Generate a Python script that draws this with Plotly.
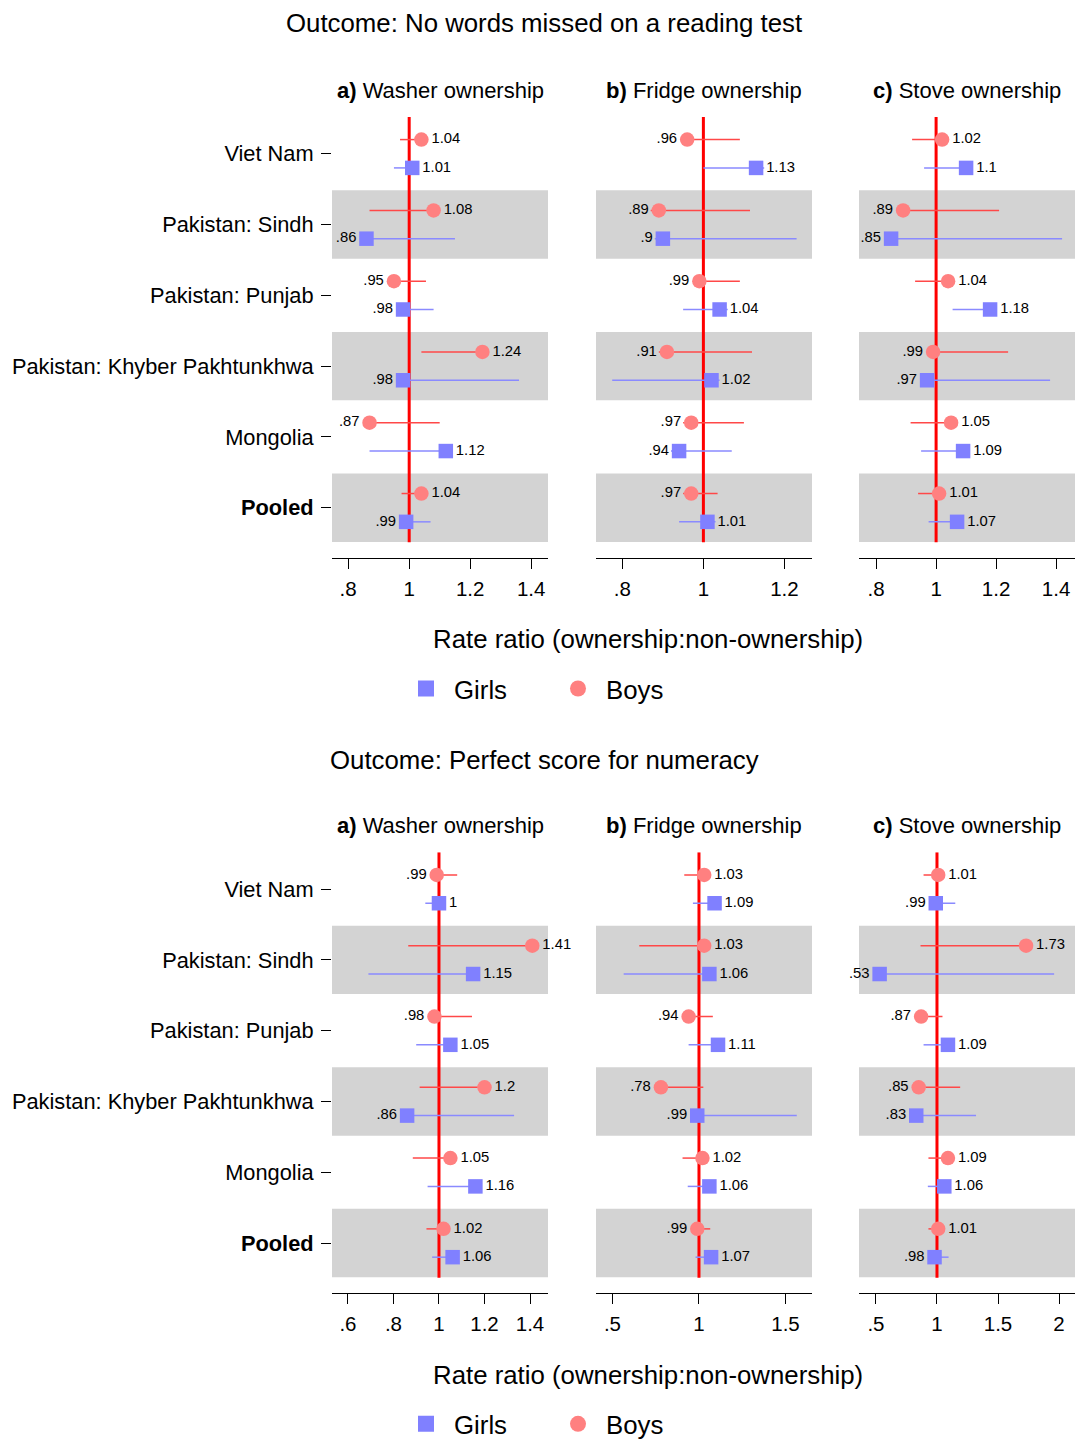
import plotly.graph_objects as go

W, H = 1075, 1448

COUNTRIES = ["Viet Nam", "Pakistan: Sindh", "Pakistan: Punjab",
             "Pakistan: Khyber Pakhtunkhwa", "Mongolia", "Pooled"]
ASSETS = ["Washer ownership", "Fridge ownership", "Stove ownership"]
PANEL_TAGS = ["a)", "b)", "c)"]
OUTCOMES = ["Outcome: No words missed on a reading test",
            "Outcome: Perfect score for numeracy"]
X_TITLE = "Rate ratio (ownership:non-ownership)"

# Outcome 1: no words missed on a reading test (rate ratio, 95% CI)
READ_WASHER_BOYS = [1.04, 1.08, 0.95, 1.24, 0.87, 1.04]
READ_WASHER_BOYS_CI = [(0.97, 1.06), (0.87, 1.10), (0.93, 1.055), (1.04, 1.26), (0.85, 1.10), (0.975, 1.06)]
READ_WASHER_GIRLS = [1.01, 0.86, 0.98, 0.98, 1.12, 0.99]
READ_WASHER_GIRLS_CI = [(0.95, 1.03), (0.84, 1.15), (0.96, 1.08), (0.96, 1.36), (0.87, 1.14), (0.97, 1.07)]

READ_FRIDGE_BOYS = [0.96, 0.89, 0.99, 0.91, 0.97, 0.97]
READ_FRIDGE_BOYS_CI = [(0.95, 1.09), (0.87, 1.115), (0.98, 1.09), (0.89, 1.12), (0.95, 1.10), (0.95, 1.035)]
READ_FRIDGE_GIRLS = [1.13, 0.90, 1.04, 1.02, 0.94, 1.01]
READ_FRIDGE_GIRLS_CI = [(1.0, 1.15), (0.88, 1.23), (0.95, 1.06), (0.775, 1.04), (0.92, 1.07), (0.94, 1.03)]

READ_STOVE_BOYS = [1.02, 0.89, 1.04, 0.99, 1.05, 1.01]
READ_STOVE_BOYS_CI = [(0.92, 1.04), (0.87, 1.21), (0.93, 1.06), (0.97, 1.24), (0.915, 1.07), (0.94, 1.03)]
READ_STOVE_GIRLS = [1.10, 0.85, 1.18, 0.97, 1.09, 1.07]
READ_STOVE_GIRLS_CI = [(0.96, 1.12), (0.83, 1.42), (1.055, 1.20), (0.95, 1.38), (0.95, 1.11), (0.975, 1.09)]

# Outcome 2: perfect score for numeracy
NUM_WASHER_BOYS = [0.99, 1.41, 0.98, 1.20, 1.05, 1.02]
NUM_WASHER_BOYS_CI = [(0.97, 1.08), (0.865, 1.43), (0.96, 1.145), (0.915, 1.22), (0.885, 1.07), (0.945, 1.04)]
NUM_WASHER_GIRLS = [1.00, 1.15, 1.05, 0.86, 1.16, 1.06]
NUM_WASHER_GIRLS_CI = [(0.94, 1.02), (0.69, 1.17), (0.90, 1.07), (0.84, 1.33), (0.95, 1.18), (0.97, 1.08)]

NUM_FRIDGE_BOYS = [1.03, 1.03, 0.94, 0.78, 1.02, 0.99]
NUM_FRIDGE_BOYS_CI = [(0.915, 1.05), (0.655, 1.05), (0.91, 1.08), (0.75, 1.025), (0.905, 1.04), (0.97, 1.065)]
NUM_FRIDGE_GIRLS = [1.09, 1.06, 1.11, 0.99, 1.06, 1.07]
NUM_FRIDGE_GIRLS_CI = [(0.965, 1.11), (0.565, 1.08), (0.94, 1.13), (0.97, 1.565), (0.935, 1.08), (0.98, 1.09)]

NUM_STOVE_BOYS = [1.01, 1.73, 0.87, 0.85, 1.09, 1.01]
NUM_STOVE_BOYS_CI = [(0.89, 1.03), (0.865, 1.75), (0.85, 1.045), (0.83, 1.19), (0.93, 1.11), (0.93, 1.03)]
NUM_STOVE_GIRLS = [0.99, 0.53, 1.09, 0.83, 1.06, 0.98]
NUM_STOVE_GIRLS_CI = [(0.97, 1.15), (0.51, 1.96), (0.89, 1.11), (0.81, 1.32), (0.925, 1.08), (0.96, 1.095)]

# x-axis tick values per panel
READ_TICKS = [[0.8, 1, 1.2, 1.4], [0.8, 1, 1.2], [0.8, 1, 1.2, 1.4]]
NUM_TICKS = [[0.6, 0.8, 1, 1.2, 1.4], [0.5, 1, 1.5], [0.5, 1, 1.5, 2]]

PANELS = [
    [(READ_WASHER_BOYS, READ_WASHER_BOYS_CI, READ_WASHER_GIRLS, READ_WASHER_GIRLS_CI),
     (READ_FRIDGE_BOYS, READ_FRIDGE_BOYS_CI, READ_FRIDGE_GIRLS, READ_FRIDGE_GIRLS_CI),
     (READ_STOVE_BOYS, READ_STOVE_BOYS_CI, READ_STOVE_GIRLS, READ_STOVE_GIRLS_CI)],
    [(NUM_WASHER_BOYS, NUM_WASHER_BOYS_CI, NUM_WASHER_GIRLS, NUM_WASHER_GIRLS_CI),
     (NUM_FRIDGE_BOYS, NUM_FRIDGE_BOYS_CI, NUM_FRIDGE_GIRLS, NUM_FRIDGE_GIRLS_CI),
     (NUM_STOVE_BOYS, NUM_STOVE_BOYS_CI, NUM_STOVE_GIRLS, NUM_STOVE_GIRLS_CI)],
]
TICKS = [READ_TICKS, NUM_TICKS]

# layout (pixels)
X_RANGES = [[(0.747, 1.455), (0.735, 1.268), (0.743, 1.463)],
            [(0.53, 1.479), (0.405, 1.653), (0.361, 2.131)]]
PANEL_PX = [(332, 548), (596, 812), (859, 1075)]
ROW_PX = [(118, 563), (860, 1305)]
PANEL_TITLE_Y = [91, 833]
OUTCOME_TITLE_Y = [23, 767]
AXIS_TITLE_Y = [645, 1387]
LEGEND_Y = [695, 1437]
LEGEND_LEFT = 398

FONT = "Liberation Sans, Arial, Helvetica, sans-serif"
BOY_MARK = "#ff8080"
GIRL_MARK = "#8080ff"
BOY_LINE = "#ff4848"
GIRL_LINE = "#8a8aff"
BAND = "#d3d3d3"
OFFSET = 0.2


def fmt(v):
    s = f"{v:.2f}".rstrip("0").rstrip(".")
    return s[1:] if s.startswith("0") else s


def px_y(py):
    return 1 - py / H


fig = go.Figure()
shapes, annotations = [], []
rows = list(range(1, len(COUNTRIES) + 1))

for o in range(2):
    legend_name = "legend" if o == 0 else "legend2"
    # legend keys (larger symbols than the plotted markers)
    for sym, col, name, rank in [("square", GIRL_MARK, "Girls", 1),
                                 ("circle", BOY_MARK, "Boys", 2)]:
        fig.add_trace(go.Scatter(x=[None], y=[None], mode="markers", name=name,
                                 legend=legend_name, legendrank=rank,
                                 xaxis="x" if o == 0 else "x4",
                                 yaxis="y" if o == 0 else "y4",
                                 marker=dict(symbol=sym, size=16, color=col,
                                             line=dict(width=0))))

    for p in range(3):
        k = o * 3 + p + 1
        suffix = "" if k == 1 else str(k)
        xa, ya = f"x{suffix}", f"y{suffix}"
        boys, boys_ci, girls, girls_ci = PANELS[o][p]

        for r in rows:
            if r % 2 == 0:
                shapes.append(dict(type="rect", xref=f"{xa} domain", yref=ya,
                                   x0=0, x1=1, y0=r - 0.483, y1=r + 0.483,
                                   fillcolor=BAND, line=dict(width=0), layer="below"))
        shapes.append(dict(type="line", xref=xa, yref=ya, x0=1, x1=1,
                           y0=0.48, y1=6.49, line=dict(color="#ff0000", width=3),
                           layer="below"))

        for vals, ci, off, mcol, lcol, sym, name in [
            (girls, girls_ci, OFFSET, GIRL_MARK, GIRL_LINE, "square", "Girls"),
            (boys, boys_ci, -OFFSET, BOY_MARK, BOY_LINE, "circle", "Boys"),
        ]:
            lx, ly = [], []
            for r, (lo, hi) in zip(rows, ci):
                lx += [lo, hi, None]
                ly += [r + off, r + off, None]
            fig.add_trace(go.Scatter(x=lx, y=ly, mode="lines", xaxis=xa, yaxis=ya,
                                     line=dict(color=lcol, width=1.5),
                                     showlegend=False, hoverinfo="skip"))
            fig.add_trace(go.Scatter(
                x=vals, y=[r + off for r in rows], mode="markers+text",
                xaxis=xa, yaxis=ya, name=name, showlegend=False,
                marker=dict(symbol=sym, size=14.5, color=mcol, line=dict(width=0)),
                text=[fmt(v) for v in vals],
                textposition=["middle right" if v >= 1 else "middle left" for v in vals],
                textfont=dict(size=14.8, color="black", family=FONT),
                cliponaxis=False))

        x0, x1 = PANEL_PX[p]
        y0, y1 = ROW_PX[o]
        ticks = TICKS[o][p]
        fig.update_layout(**{
            f"xaxis{suffix}": dict(domain=[x0 / W, x1 / W], anchor=ya,
                                   range=list(X_RANGES[o][p]),
                                   tickvals=ticks, ticktext=[fmt(t) for t in ticks],
                                   ticks="outside", ticklen=10, tickwidth=1.3,
                                   tickcolor="black", showline=True, linecolor="black",
                                   linewidth=1.3, showgrid=False, zeroline=False,
                                   ticklabelstandoff=2,
                                   tickfont=dict(size=20.5, color="black", family=FONT)),
            f"yaxis{suffix}": dict(domain=[px_y(y1), px_y(y0)], anchor=xa,
                                   range=[6.71, 0.48], tickvals=rows,
                                   ticktext=[f"<b>{c}</b>" if c == "Pooled" else c for c in COUNTRIES],
                                   showticklabels=(p == 0),
                                   ticks="outside" if p == 0 else "",
                                   ticklen=10, tickwidth=1.3, tickcolor="black",
                                   ticklabelstandoff=3,
                                   showline=False, showgrid=False, zeroline=False,
                                   tickfont=dict(size=21.8, color="black", family=FONT)),
        })

        annotations.append(dict(
            text=f"<b>{PANEL_TAGS[p]}</b> {ASSETS[p]}", xref="paper", yref="paper",
            x=(x0 + x1) / 2 / W, y=px_y(PANEL_TITLE_Y[o]), xanchor="center",
            yanchor="middle", showarrow=False,
            font=dict(size=22, color="black", family=FONT)))

    annotations.append(dict(
        text=OUTCOMES[o], xref="paper", yref="paper", x=544 / W,
        y=px_y(OUTCOME_TITLE_Y[o]), xanchor="center", yanchor="middle",
        showarrow=False, font=dict(size=25.8, color="black", family=FONT)))
    annotations.append(dict(
        text=X_TITLE, xref="paper", yref="paper", x=648 / W,
        y=px_y(AXIS_TITLE_Y[o]), xanchor="center", yanchor="middle",
        showarrow=False, font=dict(size=25.8, color="black", family=FONT)))

legend_style = dict(orientation="h", xref="paper", yref="paper",
                    x=LEGEND_LEFT / W, xanchor="left", yanchor="middle",
                    font=dict(size=25.8, color="black", family=FONT),
                    itemwidth=46, entrywidth=91, entrywidthmode="pixels",
                    bgcolor="rgba(0,0,0,0)", traceorder="normal")

fig.update_layout(
    width=W, height=H, autosize=False,
    margin=dict(l=0, r=0, t=0, b=0),
    paper_bgcolor="white", plot_bgcolor="white",
    font=dict(family=FONT, color="black"),
    shapes=shapes, annotations=annotations,
    legend=dict(**legend_style, y=px_y(LEGEND_Y[0])),
    legend2=dict(**legend_style, y=px_y(LEGEND_Y[1])),
)

fig.write_html("out.html")
